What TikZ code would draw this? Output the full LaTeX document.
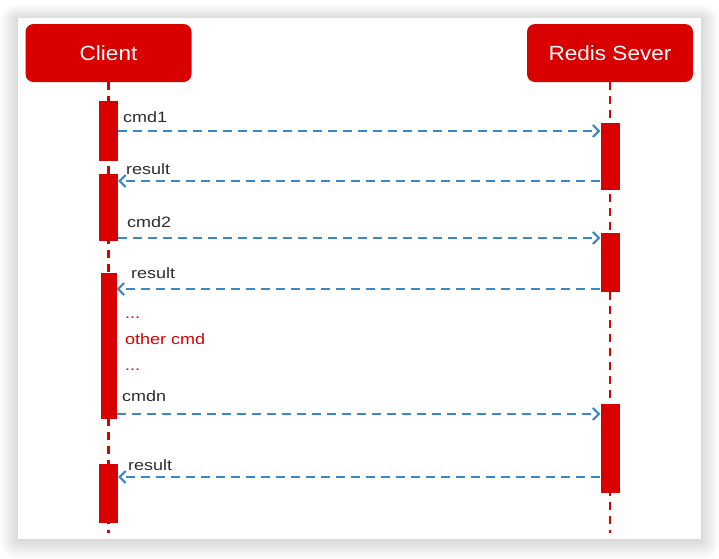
\documentclass[tikz,border=0pt]{standalone}
\usepackage{fontspec}
\setmainfont{Liberation Sans}
\newfontfamily\titlefont[FakeStretch=1.1]{Liberation Sans}
\newfontfamily\labelfont[FakeStretch=1.2]{Liberation Sans}
\usetikzlibrary{arrows.meta,calc}
\definecolor{rred}{RGB}{217,0,0}
\definecolor{ablue}{RGB}{58,136,200}
\definecolor{tgray}{RGB}{45,45,45}
\begin{document}
\begin{tikzpicture}[x=1pt,y=-1pt,
  actor/.style={fill=rred, rounded corners=8pt, minimum width=166pt, minimum height=58pt, inner sep=0pt, text=white, font=\titlefont\fontsize{20.5}{24}\selectfont},
  act/.style={fill=rred, inner sep=0pt, minimum width=19pt},
  life/.style={draw=rred, line width=2.4pt, dash pattern=on 8pt off 6pt},
  msg/.style={draw=ablue, line width=2pt, dash pattern=on 9pt off 6pt, -{Straight Barb[length=6pt,width=12pt,line width=2pt]}},
  lbl/.style={anchor=base west, inner sep=0pt, text=tgray, font=\labelfont\fontsize{15}{18}\selectfont},
  note/.style={lbl, text=rred}]
\useasboundingbox (0,0) rectangle (719,558);
\fill[white] (0,0) rectangle (719,558);
% shadow
\foreach \i in {1,...,18} {
  \fill[black, opacity=0.009, rounded corners=\i pt] (18-\i, 18-0.8*\i+1) rectangle (701+\i, 539+1.1*\i+1);
}
\fill[white] (18,18) rectangle (701,539);
% actors
\node[actor] (client) at (108.5,53) {Client};
\node[actor] (server) at (610,53) {Redis Sever};
\coordinate (cend) at (108.5,533);
\coordinate (send) at (610,533);
\draw[life] (client.south) -- (cend);
\draw[life] (server.south) -- (send);
% activations
\node[act, minimum height=60pt] (ca1) at (108.5,131) {};
\node[act, minimum height=67pt] (ca2) at (108.5,207.5) {};
\node[act, minimum height=146pt, minimum width=16pt] (ca3) at (108.5,346) {};
\node[act, minimum height=59pt] (ca4) at (108.5,493.5) {};
\node[act, minimum height=67pt] (sa1) at (610,156.5) {};
\node[act, minimum height=59pt] (sa2) at (610,262.5) {};
\node[act, minimum height=89pt] (sa3) at (610,448.5) {};
% messages
\draw[msg] (ca1.east) -- (sa1.west |- ca1.east);
\draw[msg] (sa1.west |- 0,181) -- (ca2.east |- 0,181);
\draw[msg] (ca2.east |- 0,238) -- (sa2.west |- 0,238);
\draw[msg] (sa2.west |- 0,289) -- (ca3.east |- 0,289);
\draw[msg] (ca3.east |- 0,414) -- (sa3.west |- 0,414);
\draw[msg] (sa3.west |- 0,477) -- (ca4.east |- 0,477);
% labels
\node[lbl] (l1) at (123,122.3) {cmd1};
\node[lbl] (l2) at (126,174.3) {result};
\node[lbl] (l3) at (127,227.7) {cmd2};
\node[lbl] (l4) at (131,278.7) {result};
\node[note] (n1) at (125,318.7) {...};
\node[note] (n2) at (125,344.3) {other cmd};
\node[note] (n3) at (125,370) {...};
\node[lbl] (l5) at (122,401.7) {cmdn};
\node[lbl] (l6) at (128,470.3) {result};
\end{tikzpicture}
\end{document}
